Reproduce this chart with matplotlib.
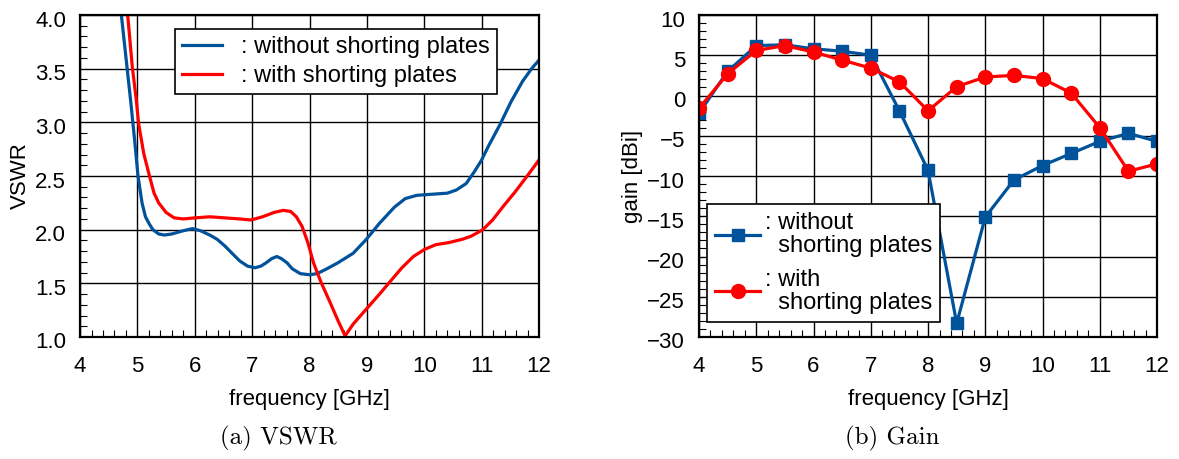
import numpy as np
import matplotlib.pyplot as plt
import matplotlib.transforms as mtransforms
from matplotlib.ticker import MultipleLocator

# VSWR, without shorting plates
f_wo = [4.72, 4.88, 4.95, 5.01, 5.08, 5.14, 5.21, 5.27, 5.37, 5.47, 5.60, 5.80, 5.96, 6.10,
        6.26, 6.39, 6.52, 6.65, 6.78, 6.92, 7.05, 7.15, 7.24, 7.34, 7.43, 7.51, 7.61, 7.70,
        7.84, 8.00, 8.13, 8.30, 8.49, 8.76, 8.99, 9.22, 9.48, 9.67, 9.87, 10.13, 10.40,
        10.56, 10.73, 10.86, 10.99, 11.12, 11.32, 11.51, 11.71, 11.87, 12.0]
v_wo = [4.00, 3.21, 2.84, 2.50, 2.25, 2.12, 2.05, 2.00, 1.96, 1.95, 1.96, 1.99, 2.01, 1.99,
        1.95, 1.91, 1.85, 1.78, 1.71, 1.66, 1.645, 1.66, 1.69, 1.73, 1.75, 1.73, 1.69, 1.635,
        1.59, 1.58, 1.59, 1.635, 1.69, 1.78, 1.91, 2.06, 2.21, 2.29, 2.32, 2.33, 2.34,
        2.37, 2.43, 2.53, 2.64, 2.78, 2.98, 3.19, 3.38, 3.50, 3.58]

# VSWR, with shorting plates
f_w = [4.83, 4.91, 4.98, 5.02, 5.11, 5.21, 5.29, 5.37, 5.50, 5.64, 5.80, 6.00, 6.26, 6.52,
       6.78, 6.98, 7.18, 7.38, 7.54, 7.67, 7.77, 7.87, 7.97, 8.07, 8.20, 8.36, 8.49, 8.62,
       8.76, 8.99, 9.22, 9.41, 9.61, 9.81, 10.0, 10.20, 10.43, 10.66, 10.82, 11.02, 11.19,
       11.38, 11.58, 11.78, 12.0]
v_w = [4.00, 3.52, 3.21, 2.99, 2.71, 2.50, 2.34, 2.25, 2.16, 2.11, 2.10, 2.11, 2.12, 2.11,
       2.10, 2.09, 2.12, 2.16, 2.18, 2.17, 2.12, 2.03, 1.88, 1.69, 1.51, 1.32, 1.16, 1.01,
       1.12, 1.26, 1.40, 1.52, 1.645, 1.75, 1.815, 1.86, 1.88, 1.91, 1.94, 2.00, 2.09,
       2.22, 2.35, 2.49, 2.65]

# gain [dBi]
f_gain = [4.0, 4.5, 5.0, 5.5, 6.0, 6.5, 7.0, 7.5, 8.0, 8.5, 9.0, 9.5, 10.0, 10.5, 11.0, 11.5, 12.0]
g_wo = [-2.2, 3.0, 6.2, 6.3, 5.8, 5.5, 5.0, -1.9, -9.3, -28.3, -15.1, -10.5, -8.7, -7.2, -5.7, -4.7, -5.7]
g_w = [-1.6, 2.7, 5.6, 6.2, 5.4, 4.4, 3.4, 1.7, -1.9, 1.1, 2.3, 2.5, 2.1, 0.3, -4.0, -9.4, -8.5]

blue = '#00529b'
red = '#ff0000'

plt.rcParams['font.family'] = ['Liberation Sans', 'DejaVu Sans']

fig = plt.figure(figsize=(11.79, 4.59), dpi=100)
ax1 = fig.add_axes([0.0679, 0.2658, 0.3893, 0.7015])
ax2 = fig.add_axes([0.5929, 0.2658, 0.3885, 0.7015])


def style(ax):
    ax.xaxis.set_major_locator(MultipleLocator(1))
    ax.xaxis.set_minor_locator(MultipleLocator(0.2))
    ax.tick_params(which='both', direction='in', top=False, right=False, labelsize=16)
    ax.tick_params(axis='x', pad=14)
    ax.tick_params(axis='y', pad=10)
    ax.tick_params(which='major', length=0)
    ax.tick_params(which='minor', length=5, width=0.8)
    ax.grid(True, which='major', color='black', linewidth=1.0)
    for s in ax.spines.values():
        s.set_linewidth(1.6)
    ax.set_xlim(4, 12)
    ax.set_xlabel('frequency [GHz]', fontsize=16)
    ax.xaxis.set_label_coords(0.5, -0.195)
    ax.xaxis.label.set_va('center')


# (a) VSWR
ax1.plot(f_wo, v_wo, color=blue, lw=2.3, label=': without shorting plates')
ax1.plot(f_w, v_w, color=red, lw=2.3, label=': with shorting plates')
style(ax1)
ax1.set_ylim(1.0, 4.0)
ax1.yaxis.set_major_locator(MultipleLocator(0.5))
ax1.yaxis.set_minor_locator(MultipleLocator(0.1))
ax1.yaxis.set_major_formatter(plt.FormatStrFormatter('%.1f'))
ax1.set_ylabel('VSWR', fontsize=16)
ax1.yaxis.set_label_coords(-0.131, 0.5)
ax1.yaxis.label.set_va('center')
leg1 = ax1.legend(loc='upper right', bbox_to_anchor=(0.9085, 0.9565), borderaxespad=0,
                  fontsize=17, fancybox=False, edgecolor='black', framealpha=1,
                  handlelength=1.7, handletextpad=0.8, borderpad=0.3, labelspacing=0.3)
leg1.get_frame().set_linewidth(1.2)

# (b) Gain
ax2.plot(f_gain, g_wo, color=blue, lw=2.3, marker='s', ms=8, label=': without\n  shorting plates')
ax2.plot(f_gain, g_w, color=red, lw=2.3, marker='o', ms=10, label=': with\n  shorting plates')
style(ax2)
ax2.set_ylim(-30, 10)
ax2.yaxis.set_major_locator(MultipleLocator(5))
ax2.yaxis.set_minor_locator(MultipleLocator(1))
ax2.set_ylabel('gain [dBi]', fontsize=16)
ax2.yaxis.set_label_coords(-0.146, 0.5)
ax2.yaxis.label.set_va('center')
leg2 = ax2.legend(loc='lower left', bbox_to_anchor=(0.0175, 0.047), borderaxespad=0,
                  fontsize=17, fancybox=False, edgecolor='black', framealpha=1,
                  handlelength=1.9, handletextpad=0.2, borderpad=0.35, labelspacing=0.5)
leg2.get_frame().set_linewidth(1.2)
for t in leg2.get_texts():
    t.set_linespacing(1.05)

fig.text(220 / 1179, 1 - 438 / 459, '(a) VSWR', family='cmr10', fontsize=18, ha='left', va='center')
fig.text(845 / 1179, 1 - 438 / 459, '(b) Gain', family='cmr10', fontsize=18, ha='left', va='center')

# y tick labels sit a little below their grid lines in the original
fig.canvas.draw()
shift = mtransforms.ScaledTranslation(0, -3.5 / 100, fig.dpi_scale_trans)
for ax in (ax1, ax2):
    for lbl in ax.get_yticklabels():
        lbl.set_transform(lbl.get_transform() + shift)

fig.savefig('out.png', dpi=100)
